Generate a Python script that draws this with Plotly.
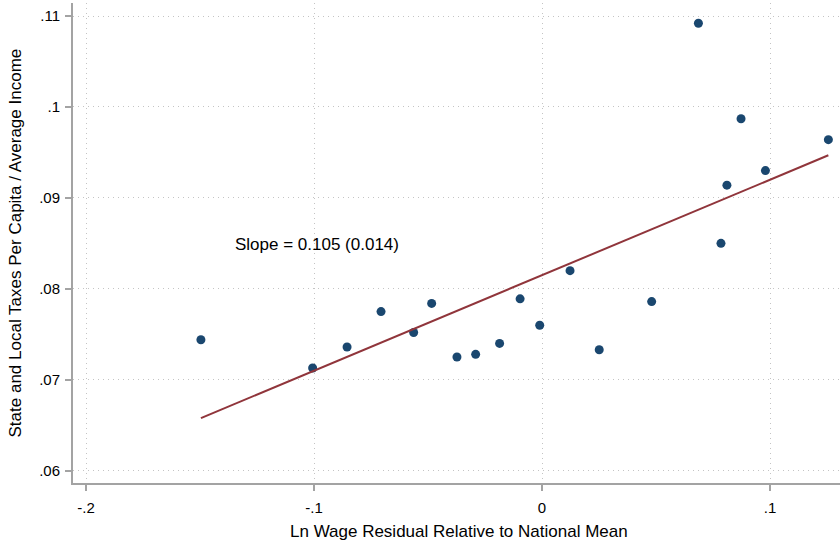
import plotly.graph_objects as go

# Ln wage residual relative to national mean (x) and state+local taxes per capita / average income (y)
wage_resid = [-0.1496, -0.1006, -0.0855, -0.0706, -0.0563, -0.0484, -0.0373, -0.0291,
              -0.0186, -0.0096, -0.0010, 0.0123, 0.0251, 0.0481, 0.0686, 0.0785,
              0.0811, 0.0873, 0.0980, 0.1256]
tax_share = [0.0744, 0.0713, 0.0736, 0.0775, 0.0752, 0.0784, 0.0725, 0.0728,
             0.0740, 0.0789, 0.0760, 0.0820, 0.0733, 0.0786, 0.1092, 0.0850,
             0.0914, 0.0987, 0.0930, 0.0964]

# Fitted line: slope as reported in the label, intercept of the fit
SLOPE = 0.105
SLOPE_SE = 0.014
INTERCEPT = 0.0815

x_ticks = [-0.2, -0.1, 0.0, 0.1]
x_tick_text = ["-.2", "-.1", "0", ".1"]
y_ticks = [0.06, 0.07, 0.08, 0.09, 0.10, 0.11]
y_tick_text = [".06", ".07", ".08", ".09", ".1", ".11"]

FONT = "Liberation Sans Narrow, Arial Narrow, Liberation Sans, Arial, sans-serif"
AXIS_GRAY = "#a3a3a3"
GRID_GRAY = "#c4c4c4"

x_fit = [min(wage_resid), max(wage_resid)]
y_fit = [INTERCEPT + SLOPE * v for v in x_fit]

fig = go.Figure()
fig.add_trace(go.Scatter(
    x=wage_resid, y=tax_share, mode="markers",
    marker=dict(color="#1a476f", size=9, line=dict(width=0)),
    showlegend=False, hoverinfo="skip",
))
fig.add_trace(go.Scatter(
    x=x_fit, y=y_fit, mode="lines",
    line=dict(color="#90353b", width=2),
    showlegend=False, hoverinfo="skip",
))

fig.add_annotation(
    x=-0.1355, y=0.0849, xref="x", yref="y",
    text=f"Slope = {SLOPE:.3f} ({SLOPE_SE:.3f})",
    showarrow=False, xanchor="left", yanchor="middle",
    font=dict(family=FONT, size=17, color="#000000"),
)

# Axis titles
fig.add_annotation(
    x=0.503, y=-0.078, xref="paper", yref="paper",
    text="Ln Wage Residual Relative to National Mean",
    showarrow=False, xanchor="center", yanchor="top",
    font=dict(family=FONT, size=17, color="#000000"),
)
fig.add_annotation(
    x=-0.075, y=0.5, xref="paper", yref="paper",
    text="State and Local Taxes Per Capita / Average Income",
    showarrow=False, textangle=-90, xanchor="center", yanchor="middle",
    font=dict(family=FONT, size=17, color="#000000"),
)

axis_common = dict(
    showline=True, linecolor=AXIS_GRAY, linewidth=2,
    ticks="outside", ticklen=6, tickwidth=2, tickcolor=AXIS_GRAY,
    showgrid=True, gridcolor=GRID_GRAY, gridwidth=1, griddash="1px,4px",
    zeroline=False, tickfont=dict(family=FONT, size=15, color="#000000"),
    mirror=False,
)

fig.update_xaxes(range=[-0.2057, 0.1307], tickvals=x_ticks, ticktext=x_tick_text,
                 ticklabelstandoff=4, **axis_common)
fig.update_yaxes(range=[0.05865, 0.11143], tickvals=y_ticks, ticktext=y_tick_text,
                 ticklabelstandoff=2, **axis_common)

fig.update_layout(
    width=840, height=543,
    margin=dict(l=73, r=0, t=3, b=60),
    paper_bgcolor="white", plot_bgcolor="white",
    font=dict(family=FONT, color="#000000"),
)

fig.write_html("out.html")
